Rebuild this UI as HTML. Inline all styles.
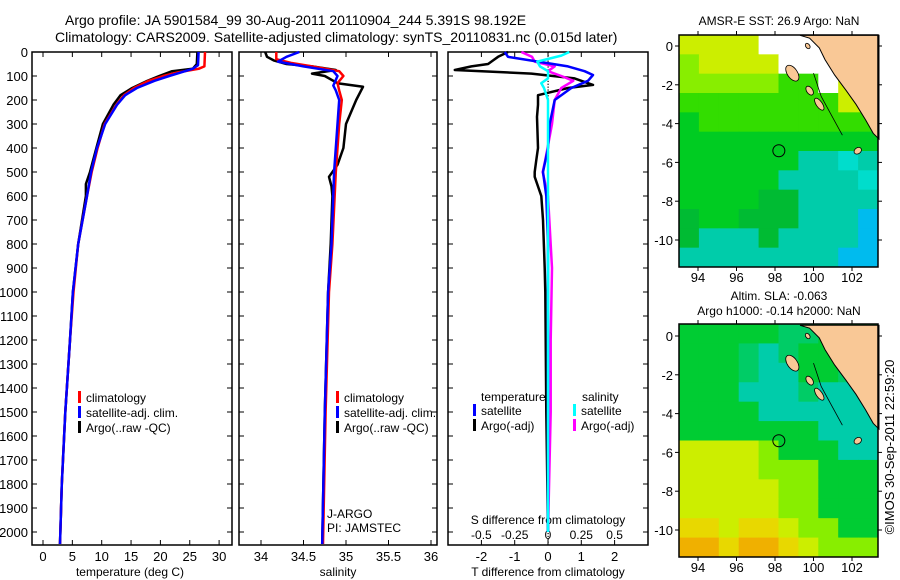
<!DOCTYPE html>
<html><head><meta charset="utf-8"><style>
body{margin:0;background:#fff}
svg{display:block;font-family:"Liberation Sans",sans-serif}
</style></head><body>
<svg id="s" width="900" height="580" viewBox="0 0 900 580" xmlns="http://www.w3.org/2000/svg">
<rect width="900" height="580" fill="#fff"/>
<text x="65" y="25" font-size="14">Argo profile: JA 5901584_99 30-Aug-2011 20110904_244 5.391S 98.192E</text>
<text x="55" y="42" font-size="14">Climatology: CARS2009. Satellite-adjusted climatology: synTS_20110831.nc (0.015d later)</text>
<g id="g"></g>
</svg>
<script>
// ---- data ----
const depthTicks=[0,100,200,300,400,500,600,700,800,900,1000,1100,1200,1300,1400,1500,1600,1700,1800,1900,2000];
const tempTicks=[0,5,10,15,20,25,30];
const salTicks=[34,34.5,35,35.5,36];
const salTickLabels=["34","34.5","35","35.5","36"];
const tdTicks=[-2,-1,0,1,2];
const sdTicks=[-0.5,-0.25,0,0.25,0.5];
const sdTickLabels=["-0.5","-0.25","0","0.25","0.5"];

const tClimD=[0,60,70,85,100,120,150,180,220,300,400,500,600,800,1000,1200,1500,1800,2050];
const tClimV=[27.6,27.5,26.5,23,20.5,18,15.5,13.8,12.5,10.5,9.3,8.3,7.5,6.0,5.2,4.6,3.8,3.2,2.9];
const tSatD=[0,55,70,85,100,120,150,180,220,300,400,500,600,800,1000,1200,1500,1800,2050];
const tSatV=[26.5,26.4,25.5,23.5,21.5,19,16,14,12.6,10.6,9.2,8.2,7.5,6.0,5.1,4.6,3.8,3.2,2.9];
const tArgoD=[0,50,70,80,100,120,150,180,220,300,400,500,550,600,800,1000,1200,1500,1800,2050];
const tArgoV=[26.3,26.2,25.5,22,19.8,17.8,15.2,13.2,12.0,10.2,9.1,8.0,7.3,7.3,6.0,5.1,4.6,3.8,3.2,2.9];

const sClimD=[0,30,45,60,80,100,130,160,200,300,500,800,1000,1500,2050];
const sClimV=[34.18,34.18,34.35,34.6,34.92,34.97,34.9,34.92,34.95,34.92,34.88,34.84,34.8,34.76,34.73];
const sSatD=[0,20,40,60,80,100,140,160,200,300,500,800,1000,1500,2050];
const sSatV=[34.45,34.3,34.2,34.5,34.85,34.9,34.85,34.88,34.92,34.9,34.86,34.83,34.79,34.75,34.72];
const sArgoD=[0,20,35,50,60,75,90,100,130,145,200,300,400,470,520,560,600,800,1000,1500,2050];
const sArgoV=[34.05,34.07,34.15,34.3,34.6,34.88,34.6,34.75,34.9,35.2,35.12,35.0,34.97,34.9,34.8,34.83,34.84,34.82,34.79,34.75,34.72];

const dTsatD=[0,20,40,60,80,96,120,150,200,300,400,500,600,800,1000,1500,2000];
const dTsatV=[-1.3,-1.2,-0.3,0.6,1.1,1.35,1.2,0.7,0.2,0.05,0.0,-0.15,-0.05,0.0,0.0,0.0,0.0];
const dTargoD=[0,20,35,50,60,75,90,110,137,150,180,220,270,400,450,500,520,600,700,900,1000,1500,2000];
const dTargoV=[-1.2,-1.5,-1.65,-1.8,-2.3,-2.8,-0.5,0.8,1.35,0.6,-0.3,-0.3,-0.33,-0.3,-0.35,-0.4,-0.4,-0.2,-0.15,-0.1,-0.08,-0.05,0.0];
const dSargoD=[0,20,40,60,80,100,120,150,200,300,450,500,600,900,1200,1500,2000];
const dSargoV=[-0.2,-0.12,-0.1,0.05,0.0,0.1,0.19,0.1,0.05,0.03,-0.02,-0.04,0.0,0.03,0.02,0.02,0.0];
const dSsatD=[0,15,40,60,80,110,130,150,200,300,600,1000,1500,2000];
const dSsatV=[0.16,0.1,-0.08,-0.06,0.0,0.0,-0.05,-0.03,0.0,0.0,0.0,0.0,0.0,0.0];

// map codes (rows = lat bins top->bottom, cols = lon bins left->right)
const sstRows=["YYYYWWWWWW","LYYYYWWWYY","LLLLLGGWYY","GGGGGGGGYY","gGGGGGGGGG","gggggggggg","ggggggCCcC","gggggCCCCc","ggggDDCCCC","DggDDDCCCB","DCCCDCCCCB","CCCCCCCCBB"];
const slaRows=["EEEEEFFEEE","EEEFTFEEEE","EEEFTTEEFF","EEETTTFTTT","EEEETTTTTT","EEEEEEETTT","YYYYLEEETT","YYYYLLLEEE","YYYYYLLEEE","YYYYYLLEEE","ooYooYLLEE","OOoOOoYLLL"];
const pal={Y:"#ccee00",L:"#88ee00",G:"#33dd00",g:"#00cc22",D:"#00bb33",C:"#00ccaa",c:"#00ddcc",B:"#00bbee",W:"#ffffff",E:"#00cc33",F:"#00cc66",T:"#00ccaa",o:"#e8d800",O:"#f0b000"};
const lonTicks=[94,96,98,100,102];
const latTicks=[0,-2,-4,-6,-8,-10];
const landLon=[99.3,99.8,100.3,100.6,101.1,101.7,102.2,102.7,103.1,103.4,103.4];
const landLat=[0.55,0.4,-0.1,-0.7,-1.5,-2.3,-3.0,-3.8,-4.5,-4.8,0.55];

// ---- drawing ----
const G=document.getElementById('g');
const NS="http://www.w3.org/2000/svg";
function el(tag,attrs,parent){const e=document.createElementNS(NS,tag);for(const k in attrs)e.setAttribute(k,attrs[k]);(parent||G).appendChild(e);return e;}
function txt(x,y,s,size,anchor,name){const t=el('text',{x:x,y:y,'font-size':size,'text-anchor':anchor||'start'});t.textContent=s;


return t;}
const y0=52,pxPer=0.24,yBot=545;
const Y=d=>y0+d*pxPer;
function frame(x1,x2,name){const r=el('rect',{x:x1,y:y0,width:x2-x1,height:yBot-y0,fill:'none',stroke:'#000','stroke-width':1.5});

}
function yTicks(x1,x2,labels){depthTicks.forEach(d=>{const y=Y(d);el('line',{x1:x1,x2:x1+5,y1:y,y2:y,stroke:'#000'});el('line',{x1:x2-5,x2:x2,y1:y,y2:y,stroke:'#000'});
if(labels)txt(28,y+5,String(d),13,'end','y-tick-label');});}
function line(ds,vs,X,color,name,w){const p=ds.map((d,i)=>X(vs[i]).toFixed(1)+','+Y(d).toFixed(1)).join(' ');
const l=el('polyline',{points:p,fill:'none',stroke:color,'stroke-width':w||2.5,'stroke-linejoin':'round'});

}
function legend(x,y,color,label,name){el('rect',{x:x,y:y-11,width:3,height:12,fill:color});txt(x+8,y,label,12,'start',name);}

// panel 1 temperature
const XT=t=>43+t*5.87;
frame(32,232,'temperature-panel');yTicks(32,232,true);
tempTicks.forEach(t=>{el('line',{x1:XT(t),x2:XT(t),y1:yBot,y2:yBot-5,stroke:'#000'});el('line',{x1:XT(t),x2:XT(t),y1:y0,y2:y0+5,stroke:'#000'});txt(XT(t),561,String(t),13,'middle','temp-tick-label');});
txt(130,576,'temperature (deg C)',12,'middle','temperature-axis-title');
line(tArgoD,tArgoV,XT,'#000','temp-argo-line');
line(tClimD,tClimV,XT,'#f00','temp-climatology-line');
line(tSatD,tSatV,XT,'#00f','temp-satellite-line');
legend(78,402,'#f00','climatology','legend-climatology');legend(78,417,'#00f','satellite-adj. clim.','legend-satellite');legend(78,432,'#000','Argo(..raw -QC)','legend-argo');

// panel 2 salinity
const XS=s=>261+(s-34)*85;
frame(239,437,'salinity-panel');yTicks(239,437,false);
salTicks.forEach((s,i)=>{el('line',{x1:XS(s),x2:XS(s),y1:yBot,y2:yBot-5,stroke:'#000'});el('line',{x1:XS(s),x2:XS(s),y1:y0,y2:y0+5,stroke:'#000'});txt(XS(s),561,salTickLabels[i],13,'middle','sal-tick-label');});
txt(338,576,'salinity',12,'middle','salinity-axis-title');
line(sArgoD,sArgoV,XS,'#000','sal-argo-line');
line(sClimD,sClimV,XS,'#f00','sal-climatology-line');
line(sSatD,sSatV,XS,'#00f','sal-satellite-line');
legend(336,402,'#f00','climatology','legend-climatology-2');legend(336,417,'#00f','satellite-adj. clim.','legend-satellite-2');legend(336,432,'#000','Argo(..raw -QC)','legend-argo-2');
txt(327,518,'J-ARGO',12,'start','float-program');txt(327,532,'PI: JAMSTEC',12,'start','float-pi');

// panel 3 differences
const XD=t=>548+t*33.3;
const XSD=s=>XD(s*4);
frame(448,648,'difference-panel');yTicks(448,648,false);
for(let d=0;d<=2050;d+=12)el('rect',{x:547.5,y:Y(d),width:1.2,height:1.2,fill:'#000'});
tdTicks.forEach(t=>{el('line',{x1:XD(t),x2:XD(t),y1:yBot,y2:yBot-5,stroke:'#000'});el('line',{x1:XD(t),x2:XD(t),y1:y0,y2:y0+5,stroke:'#000'});txt(XD(t),561,String(t),13,'middle','tdiff-tick-label');});
sdTicks.forEach((s,i)=>txt(XSD(s),539,sdTickLabels[i],12,'middle','sdiff-tick-label'));
txt(548,524,'S difference from climatology',12,'middle','sdiff-axis-title');
txt(548,576,'T difference from climatology',12,'middle','tdiff-axis-title');
line(dTargoD,dTargoV,XD,'#000','tdiff-argo-line');
line(dSargoD,dSargoV,XSD,'#f0f','sdiff-argo-line');
line(dTsatD,dTsatV,XD,'#00f','tdiff-satellite-line');
line(dSsatD,dSsatV,XSD,'#0ff','sdiff-satellite-line');
txt(481,401,'temperature',12,'start','legend-temperature-heading');txt(582,401,'salinity',12,'start','legend-salinity-heading');
legend(473,415,'#00f','satellite','legend-t-satellite');legend(473,430,'#000','Argo(-adj)','legend-t-argo');
legend(573,415,'#0ff','satellite','legend-s-satellite');legend(573,430,'#f0f','Argo(-adj)','legend-s-argo');

// maps
function map(top,bot,lat0y,rows,name,lonLabelY){
 const x1=679,x2=878,LX=l=>698+(l-94)*19.25,LY=l=>lat0y-l*19.4;
 const g=el('g',{});
 const nr=rows.length,nc=rows[0].length,cw=(x2-x1)/nc,ch=(bot-top)/nr;
 rows.forEach((r,i)=>[...r].forEach((c,j)=>el('rect',{x:x1+j*cw,y:top+i*ch,width:cw+0.5,height:ch+0.5,fill:pal[c]},g)));
 const pts=landLon.map((l,i)=>LX(l).toFixed(1)+','+Math.max(top,LY(landLat[i])).toFixed(1)).join(' ');
 const land=el('polygon',{points:pts,fill:'#f9c896',stroke:'#000','stroke-width':1},g);
 
 
 el('polyline',{points:[[100,-1.4],[100.4,-2.6],[101.5,-4.6]].map(p=>LX(p[0])+','+LY(p[1])).join(' '),fill:'none',stroke:'#000','stroke-width':0.8},g);
 [[98.9,-1.4,5,9],[99.8,-2.3,3,5],[100.3,-3.0,3,7],[102.3,-5.4,4,3],[99.7,0,2,3]].forEach(p=>el('ellipse',{cx:LX(p[0]),cy:LY(p[1]),rx:p[2],ry:p[3],fill:'#f9c896',stroke:'#000','stroke-width':0.8,transform:`rotate(-35 ${LX(p[0])} ${LY(p[1])})`},g));
 const c=el('circle',{cx:LX(98.2),cy:LY(-5.4),r:6,fill:'none',stroke:'#000','stroke-width':1},g);
 
 
 el('rect',{x:x1,y:top,width:x2-x1,height:bot-top,fill:'none',stroke:'#000','stroke-width':1.5},g);
 lonTicks.forEach(l=>{el('line',{x1:LX(l),x2:LX(l),y1:bot,y2:bot+4,stroke:'#000'},g);el('line',{x1:LX(l),x2:LX(l),y1:top,y2:top-4,stroke:'#000'},g);txt(LX(l),lonLabelY,String(l),13,'middle','lon-tick-label');});
 latTicks.forEach(l=>{el('line',{x1:x1,x2:x1-4,y1:LY(l),y2:LY(l),stroke:'#000'},g);el('line',{x1:x2,x2:x2+4,y1:LY(l),y2:LY(l),stroke:'#000'},g);txt(673,LY(l)+5,String(l),13,'end','lat-tick-label');});
}
map(35,267,46,sstRows,'sst-map',282);
map(324,557,336,slaRows,'sla-map',572);
txt(779,25,'AMSR-E SST: 26.9 Argo: NaN',12,'middle','sst-map-title');
txt(779,300,'Altim. SLA: -0.063',12,'middle','sla-map-title-1');
txt(779,315,'Argo h1000: -0.14 h2000: NaN',12,'middle','sla-map-title-2');
const cr=txt(0,0,'©IMOS 30-Sep-2011 22:59:20',13,'middle','copyright-timestamp');
cr.setAttribute('transform','translate(894,447) rotate(-90)');
</script>
</body></html>
